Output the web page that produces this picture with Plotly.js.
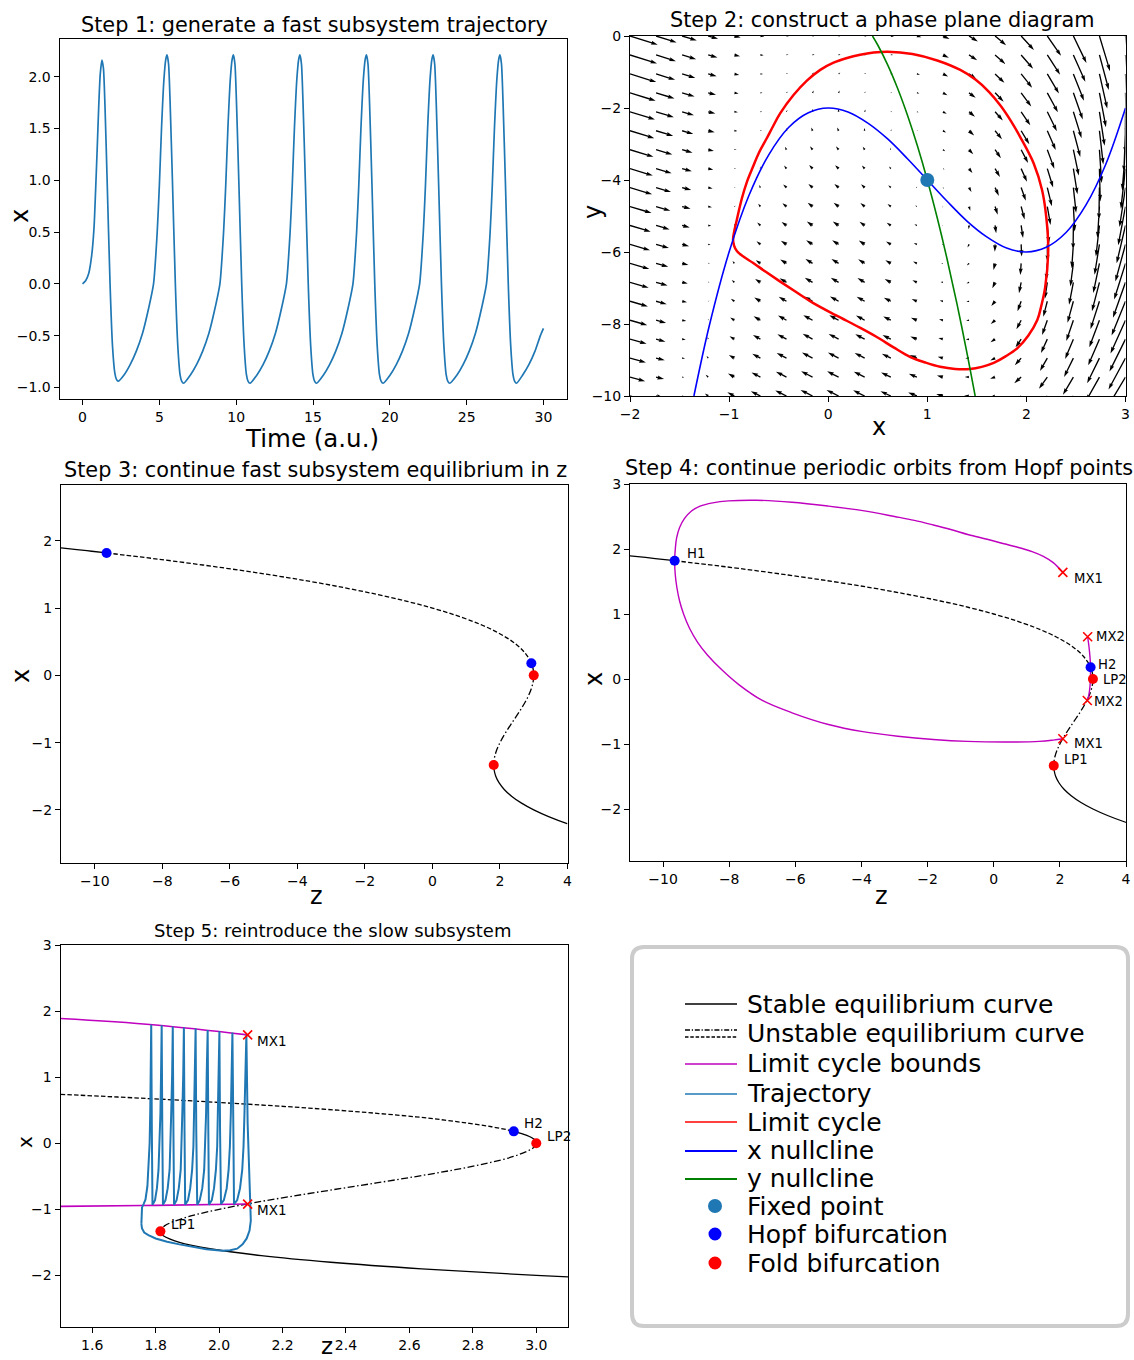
<!DOCTYPE html>
<html><head><meta charset="utf-8">
<script src="https://cdn.plot.ly/plotly-3.0.1.min.js"></script>
<style>html,body{margin:0;padding:0;background:#fff}#chart{width:1134px;height:1360px}</style>
</head><body><div id="chart"></div>
<script>
// ================= DATA =================
// Step 1: fast subsystem trajectory x(t)
const step1Time = [0,0.2,0.4,0.6,0.75,0.85,0.95,1.05,1.15,1.26,1.36,1.46,1.6,1.79,1.95,2.1,2.2,2.32,
 2.7,3.1,3.5,3.9,4.25,4.62,4.86,5.0,5.14,5.3,5.42,5.5,5.6,5.7,5.85,6.04,6.2,6.35,6.45,6.58,
 7.02,7.42,7.82,8.22,8.57,8.94,9.18,9.32,9.46,9.62,9.74,9.82,9.92,10.02,10.17,10.36,10.52,10.67,10.77,10.9,
 11.35,11.75,12.15,12.55,12.9,13.27,13.51,13.65,13.79,13.95,14.07,14.15,14.25,14.35,14.5,14.69,14.85,15.0,15.1,15.23,
 15.68,16.08,16.48,16.88,17.23,17.6,17.84,17.98,18.12,18.28,18.4,18.48,18.58,18.68,18.83,19.02,19.18,19.33,19.43,19.56,
 20.02,20.42,20.82,21.22,21.57,21.94,22.18,22.32,22.46,22.62,22.74,22.82,22.92,23.02,23.17,23.36,23.52,23.67,23.77,23.9,
 24.37,24.77,25.17,25.57,25.92,26.29,26.53,26.67,26.81,26.97,27.09,27.17,27.27,27.37,27.52,27.71,27.87,28.02,28.12,28.25,
 28.65,29.05,29.45,29.8,30.0];
const step1X = [0,0.03,0.1,0.28,0.55,0.9,1.29,1.7,2.02,2.16,2.08,1.72,1.0,0.0,-0.6,-0.86,-0.92,-0.94,
 -0.88,-0.78,-0.65,-0.48,-0.27,0.0,0.5,0.95,1.5,1.98,2.17,2.21,2.12,1.75,1.0,0.0,-0.6,-0.88,-0.94,-0.96,
 -0.88,-0.78,-0.65,-0.48,-0.27,0.0,0.5,0.95,1.5,1.98,2.17,2.21,2.12,1.75,1.0,0.0,-0.6,-0.88,-0.94,-0.96,
 -0.88,-0.78,-0.65,-0.48,-0.27,0.0,0.5,0.95,1.5,1.98,2.17,2.21,2.12,1.75,1.0,0.0,-0.6,-0.88,-0.94,-0.96,
 -0.88,-0.78,-0.65,-0.48,-0.27,0.0,0.5,0.95,1.5,1.98,2.17,2.21,2.12,1.75,1.0,0.0,-0.6,-0.88,-0.94,-0.96,
 -0.88,-0.78,-0.65,-0.48,-0.27,0.0,0.5,0.95,1.5,1.98,2.17,2.21,2.12,1.75,1.0,0.0,-0.6,-0.88,-0.94,-0.96,
 -0.88,-0.78,-0.65,-0.48,-0.27,0.0,0.5,0.95,1.5,1.98,2.17,2.21,2.12,1.75,1.0,0.0,-0.6,-0.88,-0.94,-0.96,
 -0.88,-0.78,-0.65,-0.5,-0.43];

// Step 2: quiver grid and field components
const quiverX = [-2,-1.737,-1.474,-1.211,-0.947,-0.684,-0.421,-0.158,0.105,0.368,0.632,0.895,1.158,1.421,1.684,1.947,2.211,2.474,2.737,3];
const quiverY = [-10,-9.474,-8.947,-8.421,-7.895,-7.368,-6.842,-6.316,-5.789,-5.263,-4.737,-4.211,-3.684,-3.158,-2.632,-2.105,-1.579,-1.053,-0.526,0];
const quiverU = [
[12.0,6.3,1.7,-1.8,-4.5,-6.3,-7.4,-7.9,-8.0,-7.6,-7.1,-6.3,-5.5,-4.8,-4.3,-4.0,-4.1,-4.8,-6.0,-8.0],
[12.5,6.8,2.2,-1.3,-4.0,-5.8,-6.9,-7.4,-7.5,-7.1,-6.6,-5.8,-5.0,-4.3,-3.8,-3.5,-3.6,-4.3,-5.5,-7.5],
[13.1,7.4,2.8,-0.7,-3.4,-5.2,-6.3,-6.8,-6.9,-6.5,-6.0,-5.2,-4.4,-3.7,-3.2,-2.9,-3.0,-3.7,-4.9,-6.9],
[13.6,7.9,3.3,-0.2,-2.9,-4.7,-5.8,-6.3,-6.4,-6.0,-5.5,-4.7,-3.9,-3.2,-2.7,-2.4,-2.5,-3.2,-4.4,-6.4],
[14.1,8.4,3.8,0.3,-2.4,-4.2,-5.3,-5.8,-5.9,-5.5,-5.0,-4.2,-3.4,-2.7,-2.2,-1.9,-2.0,-2.7,-3.9,-5.9],
[14.6,8.9,4.3,0.8,-1.9,-3.7,-4.8,-5.3,-5.4,-5.0,-4.5,-3.7,-2.9,-2.2,-1.7,-1.4,-1.5,-2.2,-3.4,-5.4],
[15.2,9.5,4.9,1.4,-1.3,-3.1,-4.2,-4.7,-4.8,-4.4,-3.9,-3.1,-2.3,-1.6,-1.1,-0.8,-0.9,-1.6,-2.8,-4.8],
[15.7,10.0,5.4,1.9,-0.8,-2.6,-3.7,-4.2,-4.3,-3.9,-3.4,-2.6,-1.8,-1.1,-0.6,-0.3,-0.4,-1.1,-2.3,-4.3],
[16.2,10.5,5.9,2.4,-0.3,-2.1,-3.2,-3.7,-3.8,-3.4,-2.9,-2.1,-1.3,-0.6,-0.1,0.2,0.1,-0.6,-1.8,-3.8],
[16.7,11.0,6.4,2.9,0.2,-1.6,-2.7,-3.2,-3.3,-2.9,-2.4,-1.6,-0.8,-0.1,0.4,0.7,0.6,-0.1,-1.3,-3.3],
[17.3,11.6,7.0,3.5,0.8,-1.0,-2.1,-2.6,-2.7,-2.3,-1.8,-1.0,-0.2,0.5,1.0,1.3,1.2,0.5,-0.7,-2.7],
[17.8,12.1,7.5,4.0,1.3,-0.5,-1.6,-2.1,-2.2,-1.8,-1.3,-0.5,0.3,1.0,1.5,1.8,1.7,1.0,-0.2,-2.2],
[18.3,12.6,8.0,4.5,1.8,0.0,-1.1,-1.6,-1.7,-1.3,-0.8,0.0,0.8,1.5,2.0,2.3,2.2,1.5,0.3,-1.7],
[18.8,13.1,8.5,5.0,2.3,0.5,-0.6,-1.1,-1.2,-0.8,-0.3,0.5,1.3,2.0,2.5,2.8,2.7,2.0,0.8,-1.2],
[19.4,13.7,9.1,5.6,2.9,1.1,0.0,-0.5,-0.6,-0.2,0.3,1.1,1.9,2.6,3.1,3.4,3.3,2.6,1.4,-0.6],
[19.9,14.2,9.6,6.1,3.4,1.6,0.5,0.0,-0.1,0.3,0.8,1.6,2.4,3.1,3.6,3.9,3.8,3.1,1.9,-0.1],
[20.4,14.7,10.1,6.6,3.9,2.1,1.0,0.5,0.4,0.8,1.3,2.1,2.9,3.6,4.1,4.4,4.3,3.6,2.4,0.4],
[20.9,15.2,10.6,7.1,4.4,2.6,1.5,1.0,0.9,1.3,1.8,2.6,3.4,4.1,4.6,4.9,4.8,4.1,2.9,0.9],
[21.5,15.8,11.2,7.7,5.0,3.2,2.1,1.6,1.5,1.9,2.4,3.2,4.0,4.7,5.2,5.5,5.4,4.7,3.5,1.5],
[22.0,16.3,11.7,8.2,5.5,3.7,2.6,2.1,2.0,2.4,2.9,3.7,4.5,5.2,5.7,6.0,5.9,5.2,4.0,2.0]];
const quiverV = [
[-9.0,-4.1,0.1,3.7,6.5,8.7,10.1,10.9,10.9,10.3,9.0,7.0,4.3,0.9,-3.2,-8.0,-13.4,-19.6,-26.5,-34.0],
[-9.5,-4.6,-0.4,3.2,6.0,8.2,9.6,10.4,10.4,9.8,8.5,6.5,3.8,0.4,-3.7,-8.5,-13.9,-20.1,-27.0,-34.5],
[-10.1,-5.2,-1.0,2.6,5.4,7.6,9.0,9.8,9.8,9.2,7.9,5.9,3.2,-0.2,-4.3,-9.1,-14.5,-20.7,-27.6,-35.1],
[-10.6,-5.7,-1.5,2.1,4.9,7.1,8.5,9.3,9.3,8.7,7.4,5.4,2.7,-0.7,-4.8,-9.6,-15.0,-21.2,-28.1,-35.6],
[-11.1,-6.2,-2.0,1.6,4.4,6.6,8.0,8.8,8.8,8.2,6.9,4.9,2.2,-1.2,-5.3,-10.1,-15.5,-21.7,-28.6,-36.1],
[-11.6,-6.7,-2.5,1.1,3.9,6.1,7.5,8.3,8.3,7.7,6.4,4.4,1.7,-1.7,-5.8,-10.6,-16.0,-22.2,-29.1,-36.6],
[-12.2,-7.3,-3.1,0.5,3.3,5.5,6.9,7.7,7.7,7.1,5.8,3.8,1.1,-2.3,-6.4,-11.2,-16.6,-22.8,-29.7,-37.2],
[-12.7,-7.8,-3.6,0.0,2.8,5.0,6.4,7.2,7.2,6.6,5.3,3.3,0.6,-2.8,-6.9,-11.7,-17.1,-23.3,-30.2,-37.7],
[-13.2,-8.3,-4.1,-0.5,2.3,4.5,5.9,6.7,6.7,6.1,4.8,2.8,0.1,-3.3,-7.4,-12.2,-17.6,-23.8,-30.7,-38.2],
[-13.7,-8.8,-4.6,-1.0,1.8,4.0,5.4,6.2,6.2,5.6,4.3,2.3,-0.4,-3.8,-7.9,-12.7,-18.1,-24.3,-31.2,-38.7],
[-14.3,-9.4,-5.2,-1.6,1.2,3.4,4.8,5.6,5.6,5.0,3.7,1.7,-1.0,-4.4,-8.5,-13.3,-18.7,-24.9,-31.8,-39.3],
[-14.8,-9.9,-5.7,-2.1,0.7,2.9,4.3,5.1,5.1,4.5,3.2,1.2,-1.5,-4.9,-9.0,-13.8,-19.2,-25.4,-32.3,-39.8],
[-15.3,-10.4,-6.2,-2.6,0.2,2.4,3.8,4.6,4.6,4.0,2.7,0.7,-2.0,-5.4,-9.5,-14.3,-19.7,-25.9,-32.8,-40.3],
[-15.8,-10.9,-6.7,-3.1,-0.3,1.9,3.3,4.1,4.1,3.5,2.2,0.2,-2.5,-5.9,-10.0,-14.8,-20.2,-26.4,-33.3,-40.8],
[-16.4,-11.5,-7.3,-3.7,-0.9,1.3,2.7,3.5,3.5,2.9,1.6,-0.4,-3.1,-6.5,-10.6,-15.4,-20.8,-27.0,-33.9,-41.4],
[-16.9,-12.0,-7.8,-4.2,-1.4,0.8,2.2,3.0,3.0,2.4,1.1,-0.9,-3.6,-7.0,-11.1,-15.9,-21.3,-27.5,-34.4,-41.9],
[-17.4,-12.5,-8.3,-4.7,-1.9,0.3,1.7,2.5,2.5,1.9,0.6,-1.4,-4.1,-7.5,-11.6,-16.4,-21.8,-28.0,-34.9,-42.4],
[-17.9,-13.0,-8.8,-5.2,-2.4,-0.2,1.2,2.0,2.0,1.4,0.1,-1.9,-4.6,-8.0,-12.1,-16.9,-22.3,-28.5,-35.4,-42.9],
[-18.5,-13.6,-9.4,-5.8,-3.0,-0.8,0.6,1.4,1.4,0.8,-0.5,-2.5,-5.2,-8.6,-12.7,-17.5,-22.9,-29.1,-36.0,-43.5],
[-19.0,-14.1,-9.9,-6.3,-3.5,-1.3,0.1,0.9,0.9,0.3,-1.0,-3.0,-5.7,-9.1,-13.2,-18.0,-23.4,-29.6,-36.5,-44.0]];

// Step 2: limit cycle, nullclines, fixed point
const limitCycleX = [0.6,0.85,1.1,1.333,1.486,1.622,1.74,1.843,1.935,2.074,2.158,2.2,2.22,2.19,2.15,2.11,2.02,1.91,1.79,1.67,1.55,1.43,1.28,1.13,0.98,0.83,0.66,0.49,0.32,0.08,-0.15,-0.32,-0.48,-0.63,-0.76,-0.86,-0.92,-0.95,-0.96,-0.95,-0.93,-0.87,-0.82,-0.76,-0.7,-0.62,-0.555,-0.485,-0.35,-0.215,-0.08,0.054,0.19,0.323,0.458,0.6];
const limitCycleY = [-0.435,-0.5,-0.68,-0.944,-1.211,-1.55,-1.936,-2.356,-2.794,-3.54,-4.28,-5.02,-5.94,-6.97,-7.5,-7.89,-8.32,-8.67,-8.9,-9.08,-9.19,-9.25,-9.25,-9.19,-9.07,-8.92,-8.65,-8.36,-8.1,-7.76,-7.42,-7.12,-6.83,-6.55,-6.3,-6.12,-5.98,-5.82,-5.65,-5.45,-5.2,-4.5,-4.05,-3.64,-3.25,-2.84,-2.5,-2.15,-1.64,-1.24,-0.94,-0.74,-0.61,-0.52,-0.46,-0.435];
const xNullX = [-1.355,-1.2,-1.0,-0.8,-0.6,-0.4,-0.2,0,0.2,0.4,0.6,0.8,1.0,1.2,1.4,1.6,1.8,2.0,2.2,2.4,2.6,2.8,3.0];
const xNullY = [-10,-8.05,-6.0,-4.43,-3.3,-2.54,-2.13,-2.0,-2.11,-2.42,-2.86,-3.41,-4.0,-4.59,-5.14,-5.58,-5.89,-6.0,-5.87,-5.46,-4.7,-3.57,-2.0];
const yNullX = [0.447,0.5,0.6,0.7,0.8,0.9,1.0,1.1,1.2,1.3,1.4,1.483];
const yNullY = [0,-0.25,-0.8,-1.45,-2.2,-3.05,-4.0,-5.05,-6.2,-7.45,-8.8,-10];
const fixedPointX = [1.0];
const fixedPointY = [-4.0];

// Steps 3-5: fast subsystem equilibrium curve (z, x), split by stability
const eqStableUpperZ = [-11.08,-10.53,-10.09,-9.65];
const eqStableUpperX = [1.9,1.87,1.845,1.82];
const eqUnstableDashZ = [-9.65,-8.65,-7.69,-6.22,-4.875,-3.66,-2.58,-1.61,-0.75,0,0.65,1.21,1.453,1.68,1.88,2.06,2.229,2.375,2.504,2.62,2.712,2.79,2.859,2.912,2.929];
const eqUnstableDashX = [1.82,1.76,1.7,1.6,1.5,1.4,1.3,1.2,1.1,1.0,0.9,0.8,0.75,0.7,0.65,0.6,0.55,0.5,0.45,0.4,0.35,0.3,0.25,0.2,0.18];
const eqStableMidZ = [2.929,2.970,2.993,3.0];
const eqStableMidX = [0.18,0.12,0.06,0.0];
const eqUnstableDashDotZ = [3.0,2.995,2.98,2.928,2.847,2.744,2.625,2.496,2.363,2.232,2.109,2.0,1.911,1.848,1.828,1.817,1.815];
const eqUnstableDashDotX = [0.0,-0.05,-0.1,-0.2,-0.3,-0.4,-0.5,-0.6,-0.7,-0.8,-0.9,-1.0,-1.1,-1.2,-1.25,-1.3,-1.333];
const eqStableLowerZ = [1.815,1.816,1.824,1.875,1.976,2.133,2.352,2.639,3.0,3.441,3.968,4.0];
const eqStableLowerX = [-1.333,-1.36,-1.4,-1.5,-1.6,-1.7,-1.8,-1.9,-2.0,-2.1,-2.2,-2.205];

const hopfZ = [-9.65, 2.929];
const hopfX = [1.82, 0.18];
const foldZ = [3.0, 1.815];
const foldX = [0.0, -1.333];

// Step 4: limit cycle bounds (max / min of x along the periodic-orbit branches)
const cycleBoundsZ = [2.09,1.8,1.5,1.16,0.7,0.31,-0.2,-0.76,-1.3,-1.83,-2.4,-3.0,-3.96,-5.0,-6.1,-7.17,-8.02,-8.5,-8.88,-9.15,-9.35,-9.5,-9.59,-9.63,-9.65,
 -9.63,-9.58,-9.5,-9.38,-9.2,-8.95,-8.66,-8.2,-7.7,-7.0,-6.1,-5.0,-3.96,-2.9,-1.83,-0.8,0.31,1.38,1.8,2.09];
const cycleBoundsX = [1.64,1.79,1.887,1.96,2.03,2.08,2.15,2.22,2.30,2.37,2.44,2.50,2.59,2.66,2.72,2.75,2.74,2.71,2.66,2.58,2.47,2.33,2.17,2.0,1.82,
 1.6,1.4,1.2,1.0,0.78,0.56,0.37,0.13,-0.09,-0.33,-0.52,-0.7,-0.81,-0.88,-0.93,-0.96,-0.97,-0.96,-0.94,-0.92];
const cycleBounds2Z = [2.84,2.88,2.91,2.929,2.925,2.91,2.87,2.83];
const cycleBounds2X = [0.65,0.5,0.34,0.18,0.05,-0.12,-0.26,-0.33];
const mx1Z = [2.09, 2.09];
const mx1X = [1.64, -0.92];
const mx2Z = [2.84, 2.83];
const mx2X = [0.65, -0.33];

// Step 5: full-system bursting trajectory (z, x)
const burstZ = [1.755,1.755,1.757,1.762,1.768,1.774,1.778,1.781,1.783,1.785,1.786,
 1.788,1.790,1.798,1.804,1.809,1.812,1.815,1.817,1.818,1.819,
 1.821,1.823,1.831,1.838,1.844,1.847,1.849,1.852,1.853,1.854,
 1.856,1.858,1.866,1.873,1.879,1.882,1.884,1.887,1.888,1.889,
 1.891,1.893,1.902,1.909,1.915,1.919,1.921,1.923,1.925,1.926,
 1.928,1.931,1.939,1.947,1.953,1.956,1.959,1.961,1.963,1.964,
 1.966,1.968,1.977,1.984,1.990,1.994,1.996,1.998,2.000,2.001,
 2.003,2.006,2.015,2.024,2.030,2.034,2.037,2.039,2.041,2.042,
 2.045,2.047,2.057,2.066,2.073,2.077,2.080,2.083,2.085,2.086,
 2.090,2.097,2.100,2.096,2.087,2.074,2.057,2.035,2.010,1.960,1.917,1.875,1.836,1.800,1.777,1.764,1.757,1.755];
const burstX = [-1.22,-1.08,-0.97,-0.92,-0.85,-0.65,-0.35,0.0,0.5,1.1,1.795,
 0.2,-0.93,-0.86,-0.68,-0.4,-0.05,0.45,1.05,1.5,1.785,
 0.2,-0.93,-0.86,-0.68,-0.4,-0.05,0.45,1.05,1.5,1.765,
 0.2,-0.93,-0.86,-0.68,-0.4,-0.05,0.45,1.05,1.5,1.75,
 0.2,-0.93,-0.86,-0.68,-0.4,-0.05,0.45,1.05,1.5,1.735,
 0.2,-0.93,-0.86,-0.68,-0.4,-0.05,0.45,1.05,1.5,1.715,
 0.2,-0.93,-0.86,-0.68,-0.4,-0.05,0.45,1.05,1.5,1.695,
 0.2,-0.92,-0.86,-0.68,-0.4,-0.05,0.45,1.05,1.5,1.675,
 0.2,-0.92,-0.86,-0.68,-0.4,-0.05,0.45,1.05,1.45,1.645,
 0.3,-0.9,-1.17,-1.32,-1.44,-1.53,-1.595,-1.62,-1.625,-1.605,-1.57,-1.53,-1.49,-1.44,-1.39,-1.35,-1.29,-1.22];

// Point labels
const step4Labels = [
 {t:'H1', z:-9.31, x:1.93}, {t:'MX1', z:2.39, x:1.55}, {t:'MX2', z:3.07, x:0.656},
 {t:'H2', z:3.12, x:0.22}, {t:'LP2', z:3.27, x:0.0}, {t:'MX2', z:3.0, x:-0.35},
 {t:'MX1', z:2.39, x:-0.99}, {t:'LP1', z:2.10, x:-1.245}];
const step5Labels = [
 {t:'MX1', z:2.116, x:1.543}, {t:'MX1', z:2.116, x:-1.008}, {t:'H2', z:2.958, x:0.303},
 {t:'LP2', z:3.032, x:0.115}, {t:'LP1', z:1.845, x:-1.215}];

const legendLabels = ['Stable equilibrium curve','Unstable equilibrium curve','Limit cycle bounds','Trajectory','Limit cycle','x nullcline','y nullcline','Fixed point','Hopf bifurcation','Fold bifurcation'];

// ================= STYLE / LAYOUT =================
const W = 1134, H = 1360;
const FONT = 'DejaVu Sans, Liberation Sans, sans-serif';
const C_TRAJ = '#1f77b4', C_MAG = '#bf00bf';
const px2x = p => p / W;
const px2y = p => 1 - p / H;
const frames = {
  a: {l:59.5, r:566.5, t:38.7, b:399},
  b: {l:630, r:1125.5, t:36, b:396},
  c: {l:61, r:567.5, t:485, b:863},
  d: {l:630, r:1126, t:484, b:861},
  e: {l:60.5, r:568, t:945, b:1327}
};
function dom(f){ return {x:[px2x(f.l), px2x(f.r)], y:[px2y(f.b), px2y(f.t)]}; }

function axis(f, isX, range, tickvals, fmt, anchor){
  const d = dom(f);
  return {
    domain: isX ? d.x : d.y, range: range, anchor: anchor,
    tickmode:'array', tickvals: tickvals, tickformat: fmt || '',
    ticks:'outside', ticklen:5, tickwidth:1, tickcolor:'#000',
    tickfont:{family:FONT, size:14, color:'#000'},
    showline:true, mirror:true, linecolor:'#000', linewidth:1,
    showgrid:false, zeroline:false, automargin:false,
    title:{text:''}
  };
}

const data = [];
function tr(o){ data.push(Object.assign({type:'scatter', mode:'lines', hoverinfo:'skip', showlegend:false}, o)); }

// ---- Panel 1
tr({x:step1Time, y:step1X, xaxis:'x', yaxis:'y', line:{color:C_TRAJ, width:1.7, shape:'spline', smoothing:0.6}});

// ---- Panel 2: quiver arrows drawn as filled arrow polygons (matplotlib-like geometry)
(function(){
  const f = frames.b;
  const PXX = (f.r - f.l) / 5, PXY = (f.b - f.t) / 10;  // px per data unit
  const K = 1.0;            // arrow length in px per unit of field magnitude
  const SW = 1.35;          // shaft width px
  const HL = 5*SW, HA = 4.5*SW, HW = 1.5*SW;
  const ax = [], ay = [];
  for (let j = 0; j < quiverY.length; j++) {
    for (let i = 0; i < quiverX.length; i++) {
      const u = quiverU[j][i], v = quiverV[j][i];
      const L = K * Math.hypot(u, v);
      if (L < 0.3) continue;
      const sx = u*PXX, sy = v*PXY, n = Math.hypot(sx, sy);
      const dx = sx/n, dy = sy/n, qx = -dy, qy = dx;
      const s = L < HL ? L/HL : 1;
      const w2 = SW/2*s, hl = HL*s, ha = HA*s, hw = HW*s;
      const pts = [[0,-w2],[L-ha,-w2],[L-hl,-hw],[L,0],[L-hl,hw],[L-ha,w2],[0,w2],[0,-w2]];
      for (const p of pts) {
        ax.push(quiverX[i] + (p[0]*dx + p[1]*qx)/PXX);
        ay.push(quiverY[j] + (p[0]*dy + p[1]*qy)/PXY);
      }
      ax.push(null); ay.push(null);
    }
  }
  tr({x:ax, y:ay, xaxis:'x2', yaxis:'y2', fill:'toself', fillcolor:'#000', line:{width:0, color:'rgba(0,0,0,0)'}});
})();
tr({x:limitCycleX, y:limitCycleY, xaxis:'x2', yaxis:'y2', line:{color:'#ff0000', width:2.5, shape:'spline', smoothing:1}});
tr({x:xNullX, y:xNullY, xaxis:'x2', yaxis:'y2', line:{color:'#0000ff', width:1.6, shape:'spline'}});
tr({x:yNullX, y:yNullY, xaxis:'x2', yaxis:'y2', line:{color:'#008000', width:1.6, shape:'spline'}});
tr({x:fixedPointX, y:fixedPointY, xaxis:'x2', yaxis:'y2', mode:'markers', marker:{color:C_TRAJ, size:14}});

// ---- Panels 3-5: equilibrium curve
const DASH = '4.5px,2.2px', DASHDOT = '7px,2.5px,1.5px,2.5px';
function equilibrium(xa, ya){
  const lw = 1.3;
  tr({x:eqStableUpperZ, y:eqStableUpperX, xaxis:xa, yaxis:ya, line:{color:'#000', width:lw, shape:'spline'}});
  tr({x:eqUnstableDashZ, y:eqUnstableDashX, xaxis:xa, yaxis:ya, line:{color:'#000', width:lw, dash:DASH, shape:'spline'}});
  tr({x:eqStableMidZ, y:eqStableMidX, xaxis:xa, yaxis:ya, line:{color:'#000', width:lw, shape:'spline'}});
  tr({x:eqUnstableDashDotZ, y:eqUnstableDashDotX, xaxis:xa, yaxis:ya, line:{color:'#000', width:lw, dash:DASHDOT, shape:'spline'}});
  tr({x:eqStableLowerZ, y:eqStableLowerX, xaxis:xa, yaxis:ya, line:{color:'#000', width:lw, shape:'spline'}});
}
function bifPoints(xa, ya){
  tr({x:hopfZ, y:hopfX, xaxis:xa, yaxis:ya, mode:'markers', marker:{color:'#0000ff', size:10}});
  tr({x:foldZ, y:foldX, xaxis:xa, yaxis:ya, mode:'markers', marker:{color:'#ff0000', size:10}});
}
function crosses(zs, xs, xa, ya){
  tr({x:zs, y:xs, xaxis:xa, yaxis:ya, mode:'markers', marker:{symbol:'x-thin', size:9, color:'#ff0000', line:{color:'#ff0000', width:1.6}}});
}
// Panel 3
equilibrium('x3','y3'); bifPoints('x3','y3');
// Panel 4
equilibrium('x4','y4');
tr({x:cycleBoundsZ, y:cycleBoundsX, xaxis:'x4', yaxis:'y4', line:{color:C_MAG, width:1.4, shape:'spline', smoothing:1}});
tr({x:cycleBounds2Z, y:cycleBounds2X, xaxis:'x4', yaxis:'y4', line:{color:C_MAG, width:1.4, shape:'spline'}});
bifPoints('x4','y4'); crosses(mx1Z.concat(mx2Z), mx1X.concat(mx2X), 'x4','y4');
// Panel 5
equilibrium('x5','y5');
tr({x:cycleBoundsZ, y:cycleBoundsX, xaxis:'x5', yaxis:'y5', line:{color:C_MAG, width:1.6, shape:'spline', smoothing:1}});
tr({x:burstZ, y:burstX, xaxis:'x5', yaxis:'y5', line:{color:C_TRAJ, width:2}});
bifPoints('x5','y5'); crosses(mx1Z, mx1X, 'x5','y5');

// ---- annotations: subplot titles, axis titles, point labels
const ann = [];
function txt(text, xc, yc, size, angle){
  ann.push({text:text, xref:'paper', yref:'paper', x:px2x(xc), y:px2y(yc), xanchor:'center', yanchor:'middle', showarrow:false, borderpad:0, textangle:angle||0, font:{family:FONT, size:size, color:'#000'}});
}
txt('Step 1: generate a fast subsystem trajectory', 314, 25, 20.8);
txt('Step 2: construct a phase plane diagram', 882, 20, 20.8);
txt('Step 3: continue fast subsystem equilibrium in z', 315, 470, 20.8);
txt('Step 4: continue periodic orbits from Hopf points', 879, 468, 20.8);
txt('Step 5: reintroduce the slow subsystem', 332, 930, 18);
// axis titles
txt('Time (a.u.)', 312, 438.5, 24.5);
txt('x', 20, 216, 24, -90);
txt('x', 879, 427, 24);
txt('y', 593, 212, 24, -90);
txt('z', 316, 896, 24);
txt('x', 21, 676, 24, -90);
txt('z', 881, 896, 24);
txt('x', 594, 679, 24, -90);
txt('z', 327, 1346, 23);
txt('x', 25, 1142, 20, -90);
step4Labels.forEach(l => ann.push({text:l.t, xref:'x4', yref:'y4', x:l.z, y:l.x, xanchor:'left', yanchor:'middle', showarrow:false, borderpad:0, font:{family:FONT, size:13.2, color:'#000'}}));
step5Labels.forEach(l => ann.push({text:l.t, xref:'x5', yref:'y5', x:l.z, y:l.x, xanchor:'left', yanchor:'middle', showarrow:false, borderpad:0, font:{family:FONT, size:13.5, color:'#000'}}));

// ---- legend (drawn in paper space in the empty sixth cell)
const shapes = [];
(function(){
  const l = 632, r = 1128, t = 947, b = 1326, rad = 12;
  const X = p => px2x(p), Y = p => px2y(p);
  const path = `M ${X(l+rad)},${Y(t)} L ${X(r-rad)},${Y(t)} Q ${X(r)},${Y(t)} ${X(r)},${Y(t+rad)} L ${X(r)},${Y(b-rad)} Q ${X(r)},${Y(b)} ${X(r-rad)},${Y(b)} L ${X(l+rad)},${Y(b)} Q ${X(l)},${Y(b)} ${X(l)},${Y(b-rad)} L ${X(l)},${Y(t+rad)} Q ${X(l)},${Y(t)} ${X(l+rad)},${Y(t)} Z`;
  shapes.push({type:'path', xref:'paper', yref:'paper', path:path, line:{color:'#cccccc', width:4}, fillcolor:'#ffffff', layer:'below'});
  const x0 = 685, x1 = 737;
  const lineRows = [
    {y:1004, c:'#000', w:1.4},
    {y:1030, c:'#000', w:1.3, d:'dashdot'},
    {y:1037, c:'#000', w:1.3, d:'dash'},
    {y:1064, c:C_MAG, w:1.6},
    {y:1094, c:C_TRAJ, w:1.6},
    {y:1122, c:'#ff0000', w:1.6},
    {y:1151, c:'#0000ff', w:2},
    {y:1179, c:'#008000', w:2}];
  lineRows.forEach(s => shapes.push({type:'line', xref:'paper', yref:'paper', x0:X(x0), x1:X(x1), y0:Y(s.y), y1:Y(s.y),
     line:{color:s.c, width:s.w, dash: s.d === 'dash' ? '3.5px,1.8px' : (s.d === 'dashdot' ? '5px,1.8px,1.2px,1.8px' : 'solid')}}));
  const dots = [{y:1206, c:C_TRAJ, d:14}, {y:1234, c:'#0000ff', d:13}, {y:1263, c:'#ff0000', d:13}];
  dots.forEach(s => shapes.push({type:'circle', xref:'paper', yref:'paper', x0:X(715-s.d/2), x1:X(715+s.d/2), y0:Y(s.y+s.d/2), y1:Y(s.y-s.d/2), fillcolor:s.c, line:{width:0}}));
  const textY = [1004, 1033, 1063, 1093, 1122, 1150, 1178, 1206, 1234, 1263];
  legendLabels.forEach((t, k) => ann.push({text:t, xref:'paper', yref:'paper', x:X(746), y:Y(textY[k]), xanchor:'left', yanchor:'middle', showarrow:false, borderpad:0, font:{family:FONT, size:25, color:'#000'}}));
})();

const layout = {
  width:W, height:H, margin:{l:0, r:0, t:0, b:0}, paper_bgcolor:'#fff', plot_bgcolor:'rgba(0,0,0,0)',
  font:{family:FONT, color:'#000'}, showlegend:false,
  xaxis: axis(frames.a, true, [-1.5,31.5], [0,5,10,15,20,25,30], '', 'y'),
  yaxis: axis(frames.a, false, [-1.112,2.367], [-1,-0.5,0,0.5,1,1.5,2], '.1f', 'x'),
  xaxis2: axis(frames.b, true, [-2,3], [-2,-1,0,1,2,3], '', 'y2'),
  yaxis2: axis(frames.b, false, [-10,0], [-10,-8,-6,-4,-2,0], '', 'x2'),
  xaxis3: axis(frames.c, true, [-11,4], [-10,-8,-6,-4,-2,0,2,4], '', 'y3'),
  yaxis3: axis(frames.c, false, [-2.79,2.83], [-2,-1,0,1,2], '', 'x3'),
  xaxis4: axis(frames.d, true, [-11,4], [-10,-8,-6,-4,-2,0,2,4], '', 'y4'),
  yaxis4: axis(frames.d, false, [-2.8,3.0], [-2,-1,0,1,2,3], '', 'x4'),
  xaxis5: axis(frames.e, true, [1.5,3.1], [1.6,1.8,2.0,2.2,2.4,2.6,2.8,3.0], '.1f', 'y5'),
  yaxis5: axis(frames.e, false, [-2.78,3.0], [-2,-1,0,1,2,3], '', 'x5'),
  annotations: ann, shapes: shapes
};

Plotly.newPlot('chart', data, layout, {staticPlot:true, displayModeBar:false});
</script></body></html>
